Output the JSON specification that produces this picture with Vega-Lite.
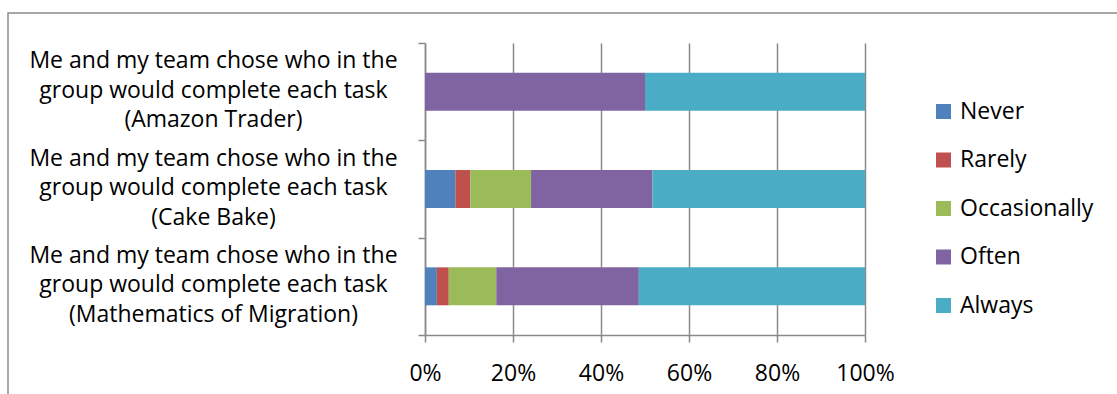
{
  "$schema": "https://vega.github.io/schema/vega-lite/v6.json",
  "width": 1110,
  "height": 382,
  "autosize": {"type": "none"},
  "padding": {"left": 8, "top": 13, "right": 0, "bottom": 0},
  "background": "white",
  "config": {
    "view": {"stroke": "#8a8a8a", "strokeWidth": 1.5},
    "font": "Open Sans",
    "axis": {"labelFont": "Open Sans", "labelColor": "#000000", "labelFontSize": 23, "domainColor": "#8a8a8a", "tickColor": "#8a8a8a", "domainWidth": 1.5, "tickWidth": 1.5},
    "legend": {"labelFont": "Open Sans"}
  },
  "data": {
    "values": [
      {"task": "Me and my team chose who in the|group would complete each task|(Amazon Trader)", "response": "Never", "share": 0},
      {"task": "Me and my team chose who in the|group would complete each task|(Amazon Trader)", "response": "Rarely", "share": 0},
      {"task": "Me and my team chose who in the|group would complete each task|(Amazon Trader)", "response": "Occasionally", "share": 0},
      {"task": "Me and my team chose who in the|group would complete each task|(Amazon Trader)", "response": "Often", "share": 50},
      {"task": "Me and my team chose who in the|group would complete each task|(Amazon Trader)", "response": "Always", "share": 50},
      {"task": "Me and my team chose who in the|group would complete each task|(Cake Bake)", "response": "Never", "share": 6.9},
      {"task": "Me and my team chose who in the|group would complete each task|(Cake Bake)", "response": "Rarely", "share": 3.4},
      {"task": "Me and my team chose who in the|group would complete each task|(Cake Bake)", "response": "Occasionally", "share": 13.8},
      {"task": "Me and my team chose who in the|group would complete each task|(Cake Bake)", "response": "Often", "share": 27.6},
      {"task": "Me and my team chose who in the|group would complete each task|(Cake Bake)", "response": "Always", "share": 48.3},
      {"task": "Me and my team chose who in the|group would complete each task|(Mathematics of Migration)", "response": "Never", "share": 2.7},
      {"task": "Me and my team chose who in the|group would complete each task|(Mathematics of Migration)", "response": "Rarely", "share": 2.7},
      {"task": "Me and my team chose who in the|group would complete each task|(Mathematics of Migration)", "response": "Occasionally", "share": 10.8},
      {"task": "Me and my team chose who in the|group would complete each task|(Mathematics of Migration)", "response": "Often", "share": 32.4},
      {"task": "Me and my team chose who in the|group would complete each task|(Mathematics of Migration)", "response": "Always", "share": 51.4}
    ]
  },
  "transform": [
    {"calculate": "indexof(['Never','Rarely','Occasionally','Often','Always'], datum.response)", "as": "rank"}
  ],
  "encoding": {
    "y": {"field": "task", "type": "nominal", "title": null,
          "sort": ["Me and my team chose who in the|group would complete each task|(Amazon Trader)", "Me and my team chose who in the|group would complete each task|(Cake Bake)", "Me and my team chose who in the|group would complete each task|(Mathematics of Migration)"],
          "scale": {"range": [30, 322], "paddingInner": 0, "paddingOuter": 0},
          "axis": {"offset": -417, "tickBand": "extent", "tickSize": 7, "labelPadding": 205, "labelAlign": "center", "labelOffset": -31, "labelLimit": 600, "labelLineHeight": 29.5, "labelExpr": "split(datum.label, '|')"}},
    "order": {"field": "rank", "type": "quantitative", "sort": "ascending"}
  },
  "resolve": {"axis": {"x": "independent"}},
  "layer": [
    {
      "mark": {"type": "bar", "opacity": 0},
      "encoding": {
        "x": {"field": "share", "type": "quantitative", "stack": "normalize",
              "scale": {"domain": [0, 1], "range": [417, 857]},
              "axis": {"orient": "bottom", "offset": -60, "values": [0, 0.2, 0.4, 0.6, 0.8, 1], "labels": false, "domain": false, "grid": false, "tickSize": -292, "title": null}}
      }
    },
    {
      "mark": {"type": "bar", "height": {"band": 0.39}},
      "encoding": {
        "x": {"field": "share", "type": "quantitative", "stack": "normalize",
              "scale": {"domain": [0, 1], "range": [417, 857]},
              "axis": {"orient": "bottom", "offset": -60, "values": [0, 0.2, 0.4, 0.6, 0.8, 1], "format": ".0%", "grid": false, "tickSize": 7, "labelPadding": 20, "labelFlush": false, "labelOverlap": false, "title": null}},
        "color": {"field": "response", "type": "nominal",
                  "sort": ["Never", "Rarely", "Occasionally", "Often", "Always"],
                  "scale": {"domain": ["Never", "Rarely", "Occasionally", "Often", "Always"], "range": ["#4F81BD", "#C0504D", "#9BBB59", "#8064A2", "#4BACC6"]},
                  "legend": {"title": null, "orient": "none", "legendX": 924, "legendY": 87, "symbolType": "square", "symbolSize": 225, "symbolStrokeWidth": 0, "symbolOpacity": 1, "labelFontSize": 23, "labelColor": "#000000", "rowPadding": 24.5, "labelOffset": 5}}
      }
    }
  ]
}
